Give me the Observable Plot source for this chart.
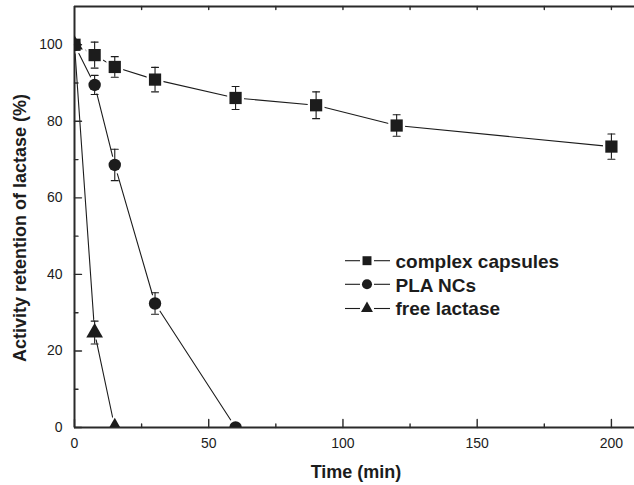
<!DOCTYPE html>
<html>
<head>
<meta charset="utf-8">
<script src="https://cdn.jsdelivr.net/npm/d3@7"></script>
<script src="https://cdn.jsdelivr.net/npm/@observablehq/plot@0.6"></script>
<style>
  html, body { margin: 0; padding: 0; background: #fff; }
  #chart { width: 634px; height: 485px; }
</style>
</head>
<body>
<div id="chart"></div>
<script>
// ---- data ----
const seriesNames = ["complex capsules", "PLA NCs", "free lactase"];

const ccTime = [0, 7.5, 15, 30, 60, 90, 120, 200];
const ccValue = [100, 97.3, 94.2, 90.9, 86.1, 84.2, 78.9, 73.4];
const ccError = [0, 3.4, 2.7, 3.2, 3.0, 3.5, 2.8, 3.3];

const plaTime = [0, 7.5, 15, 30, 60];
const plaValue = [100, 89.5, 68.6, 32.4, 0];
const plaError = [0, 2.5, 4.1, 2.8, 0];

const freeTime = [0, 7.5, 15];
const freeValue = [100, 24.8, 0];
const freeError = [0, 3.0, 0];

const xMajorTicks = [0, 50, 100, 150, 200];
const xMinorTicks = [25, 75, 125, 175];
const xTopTicks = [25, 50, 75, 100, 125, 150, 175, 200];
const yMajorTicks = [0, 20, 40, 60, 80, 100];
const yMinorTicks = [10, 30, 50, 70, 90];

const xLabel = "Time (min)";
const yLabel = "Activity retention of lactase (%)";

// ---- build tables ----
function rows(name, t, v, e) {
  return t.map((x, i) => ({series: name, time: x, value: v[i], err: e[i]}));
}
const cc = rows(seriesNames[0], ccTime, ccValue, ccError);
const pla = rows(seriesNames[1], plaTime, plaValue, plaError);
const free = rows(seriesNames[2], freeTime, freeValue, freeError);
const errRows = [...cc, ...pla, ...free].filter(d => d.err > 0);

const ink = "#1c1c1c";
const axisInk = "#2a2a2a";
const font = "'Liberation Sans', Arial, Helvetica, sans-serif";
const line = {shape: "arrow", r: 0, stroke: axisInk, strokeWidth: 1.4, anchor: "start"};

const symbols = {[seriesNames[0]]: "square", [seriesNames[1]]: "circle", [seriesNames[2]]: "triangle"};
const radius = {[seriesNames[0]]: 6.9, [seriesNames[1]]: 6.2, [seriesNames[2]]: 6.2};

function dotsFor(data, name, halo) {
  return Plot.dot(data, {
    x: "time", y: "value",
    symbol: () => symbols[name],
    r: radius[name] + (halo ? 2.6 : 0),
    fill: halo ? "white" : ink,
    stroke: "none",
    clip: true
  });
}

const chart = Plot.plot({
  width: 634,
  height: 485,
  marginLeft: 74,
  marginRight: 0,
  marginTop: 6,
  marginBottom: 58,
  style: {fontFamily: font, background: "white", color: ink, overflow: "visible"},
  x: {domain: [0, 208.6], axis: null},
  y: {domain: [0, 110], axis: null},
  symbol: {type: "identity"},
  marks: [
    // connecting lines
    Plot.line(cc, {x: "time", y: "value", stroke: ink, strokeWidth: 1.1}),
    Plot.line(pla, {x: "time", y: "value", stroke: ink, strokeWidth: 1.1}),
    Plot.line(free, {x: "time", y: "value", stroke: ink, strokeWidth: 1.1}),
    // white gaps around markers
    dotsFor(cc, seriesNames[0], true),
    dotsFor(pla, seriesNames[1], true),
    dotsFor(free, seriesNames[2], true),
    // frame (left, bottom, top)
    Plot.ruleX([0], {stroke: axisInk, strokeWidth: 2}),
    Plot.ruleY([0], {stroke: axisInk, strokeWidth: 2}),
    Plot.ruleY([110], {stroke: axisInk, strokeWidth: 2}),
    // inward ticks
    Plot.vector(yMajorTicks, {x: 0, y: d => d, rotate: 90, length: 7, ...line}),
    Plot.vector(yMinorTicks, {x: 0, y: d => d, rotate: 90, length: 3.5, ...line}),
    Plot.vector(xMajorTicks, {x: d => d, y: 0, rotate: 0, length: 8, ...line}),
    Plot.vector(xMinorTicks, {x: d => d, y: 0, rotate: 0, length: 3.5, ...line}),
    Plot.vector(xTopTicks, {x: d => d, y: 110, rotate: 180, length: 3, ...line}),
    // tick labels
    Plot.axisY({ticks: yMajorTicks, anchor: "left", tickSize: 0, tickPadding: 12, fontSize: 14, label: null, fill: ink}),
    Plot.axisX({ticks: xMajorTicks, anchor: "bottom", tickSize: 0, tickPadding: 11, fontSize: 14, label: null, fill: ink}),
    // error bars
    Plot.ruleX(errRows, {x: "time", y1: d => d.value - d.err, y2: d => d.value + d.err, stroke: ink, strokeWidth: 1.1}),
    Plot.vector(errRows, {x: "time", y: d => d.value + d.err, rotate: 90, length: 7, shape: "arrow", r: 0, anchor: "middle", stroke: ink, strokeWidth: 1.1}),
    Plot.vector(errRows, {x: "time", y: d => d.value - d.err, rotate: 90, length: 7, shape: "arrow", r: 0, anchor: "middle", stroke: ink, strokeWidth: 1.1}),
    // markers
    dotsFor(cc, seriesNames[0], false),
    dotsFor(pla, seriesNames[1], false),
    dotsFor(free, seriesNames[2], false)
  ]
});

// axis titles + legend (annotations)
const svg = d3.select(chart);
svg.append("text")
  .attr("x", 356).attr("y", 477.5)
  .attr("text-anchor", "middle")
  .style("font", `bold 18px ${font}`).attr("fill", ink)
  .text(xLabel);
svg.append("text")
  .attr("transform", "translate(25.5,228) rotate(-90)")
  .attr("text-anchor", "middle")
  .style("font", `bold 18px ${font}`).attr("fill", ink)
  .text(yLabel);

const legendSym = [d3.symbolSquare, d3.symbolCircle, d3.symbolTriangle];
const legendSize = [80, 80, 62];
const legendCy = [260.7, 284.3, 308.5];
const legendBase = [267.5, 291.5, 315];
const lg = svg.append("g").attr("text-anchor", "start");
seriesNames.forEach((name, i) => {
  lg.append("line").attr("x1", 345).attr("x2", 360).attr("y1", legendCy[i]).attr("y2", legendCy[i]).attr("stroke", ink).attr("stroke-width", 1.1);
  lg.append("line").attr("x1", 374).attr("x2", 390).attr("y1", legendCy[i]).attr("y2", legendCy[i]).attr("stroke", ink).attr("stroke-width", 1.1);
  lg.append("path").attr("d", d3.symbol(legendSym[i], legendSize[i])())
    .attr("transform", `translate(367,${legendCy[i]})`).attr("fill", ink);
  lg.append("text").attr("x", 395.5).attr("y", legendBase[i])
    .attr("text-anchor", "start")
    .style("font", `bold 19px ${font}`).attr("fill", ink).text(name);
});

document.getElementById("chart").appendChild(chart);
</script>
</body>
</html>
